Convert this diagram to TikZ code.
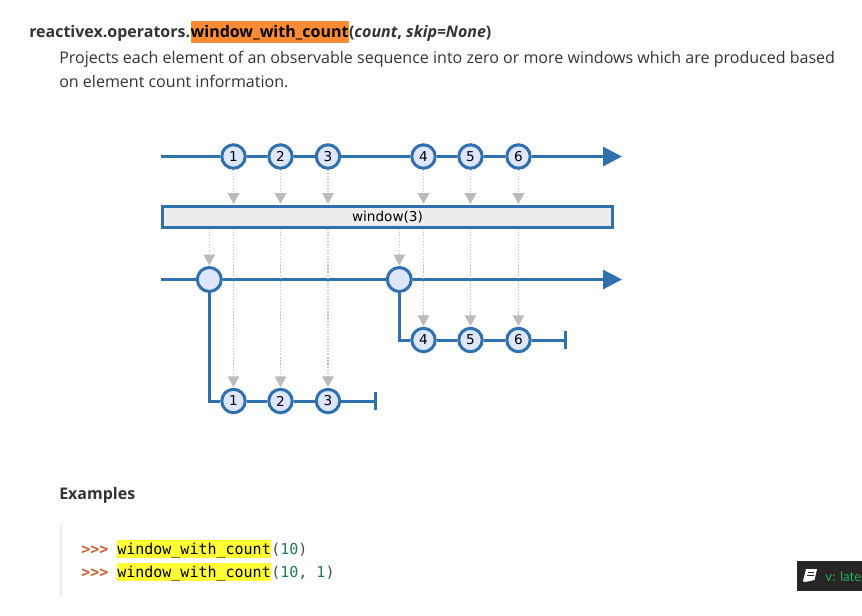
\documentclass[tikz,border=0pt]{standalone}
\usepackage{fontspec}
\setmainfont{Open Sans}
\newfontfamily\codefont{DejaVu Sans Mono}
\newfontfamily\marblefont{DejaVu Sans}
\newfontfamily\badgefont{Lato}
\usetikzlibrary{positioning,arrows.meta}
\definecolor{stream_blue}{HTML}{3071AD}
\definecolor{marble_fill}{HTML}{DDE6FB}
\definecolor{flow_grey}{HTML}{BBBBBB}
\definecolor{body_ink}{HTML}{333333}
\definecolor{num_green}{HTML}{1F7A55}
\definecolor{prompt_red}{HTML}{C65D2B}
\definecolor{mark_orange}{HTML}{FF8C35}
\definecolor{mark_yellow}{HTML}{FFFF33}
\definecolor{badge_dark}{HTML}{272525}
\definecolor{badge_green}{HTML}{27AE60}
\definecolor{bar_grey}{HTML}{EEEEEE}
\begin{document}
\begin{tikzpicture}[x=0.75pt, y=-0.75pt, node distance=0pt,
  marble/.style={circle, draw=stream_blue, line width=2.25pt, fill=marble_fill, inner sep=0pt, minimum size=17.6pt, text=black, font=\marblefont\fontsize{10.2}{12}\selectfont},
  big_marble/.style={marble, minimum size=18pt},
  window_box/.style={draw=stream_blue, line width=2.25pt, fill=black!7, inner sep=0pt, minimum width=337.5pt, minimum height=15.75pt, text height=10pt, text depth=1.8pt, text=black, font=\marblefont\fontsize{10.2}{12}\selectfont},
  stream_line/.style={draw=stream_blue, line width=2.25pt},
  stream_end/.style={stream_line, -{Triangle[length=14.25pt, width=14.25pt]}},
  stream_stop/.style={stream_line, -{Bar[width=13.5pt, line width=2.25pt]}},
  flow_line/.style={draw=flow_grey, line width=0.9pt, dash pattern=on 0.9pt off 1.4pt, -{Triangle[length=8pt, width=8.6pt, fill=flow_grey]}, shorten >=0.5pt},
  body_text/.style={inner sep=0pt, anchor=base west, text=body_ink, font=\fontsize{12.03}{14}\selectfont},
  head_text/.style={body_text, font=\bfseries\fontsize{12}{14}\selectfont},
  head_mark/.style={head_text, text=black, fill=mark_orange, text height=12pt, text depth=4.5pt},
  code_text/.style={inner sep=0pt, anchor=base west, text=black!70, font=\codefont\fontsize{11.25}{14}\selectfont},
  code_mark/.style={code_text, text=black, fill=mark_yellow, text height=10.5pt, text depth=3pt},
  prompt/.style={code_text, text=prompt_red, font=\codefont\bfseries\fontsize{11.25}{14}\selectfont}]

\useasboundingbox (0,0) rectangle (862,615);

\node[head_text] (head_a) at (29,37) {reactivex.operators.};
\node[head_mark, base right=of head_a] (head_b) {window\_with\_count};
\node[head_text, base right=of head_b] (head_c) {(\textit{count}, \textit{skip=None})};
\node[body_text] (body_a) at (59,63) {Projects each element of an observable sequence into zero or more windows which are produced based};
\node[body_text] (body_b) at (59,87) {on element count information.};

\node[marble] (n1) at (233.5,156.5) {1};
\node[marble] (n2) at (280.5,156.5) {2};
\node[marble] (n3) at (328,156.5) {3};
\node[marble] (n4) at (423.5,156.5) {4};
\node[marble] (n5) at (470.5,156.5) {5};
\node[marble] (n6) at (518.5,156.5) {6};
\node[window_box] (win) at (387.5,216.5) {window(3)};
\node[big_marble] (w1) at (209.3,279.5) {};
\node[big_marble] (w2) at (399.3,279.5) {};
\node[marble] (a4) at (423.5,340) {4};
\node[marble] (a5) at (470.5,340) {5};
\node[marble] (a6) at (518.5,340) {6};
\node[marble] (b1) at (233.5,401) {1};
\node[marble] (b2) at (280.5,401) {2};
\node[marble] (b3) at (328,401) {3};

\coordinate (top_start) at (161,156.5);
\coordinate (top_end) at (622,156.5);
\coordinate (mid_start) at (161,279.5);
\coordinate (mid_end) at (622,279.5);
\coordinate (a_stop) at (567,340);
\coordinate (b_stop) at (377,401);

\draw[stream_line] (top_start) -- (n1);
\draw[stream_line] (n1) -- (n2);
\draw[stream_line] (n2) -- (n3);
\draw[stream_line] (n3) -- (n4);
\draw[stream_line] (n4) -- (n5);
\draw[stream_line] (n5) -- (n6);
\draw[stream_end] (n6) -- (top_end);
\draw[stream_line] (mid_start) -- (w1);
\draw[stream_line] (w1) -- (w2);
\draw[stream_end] (w2) -- (mid_end);
\draw[stream_line] (w1) |- (b1);
\draw[stream_line] (b1) -- (b2);
\draw[stream_line] (b2) -- (b3);
\draw[stream_stop] (b3) -- (b_stop);
\draw[stream_line] (w2) |- (a4);
\draw[stream_line] (a4) -- (a5);
\draw[stream_line] (a5) -- (a6);
\draw[stream_stop] (a6) -- (a_stop);

\draw[flow_line] (n1) -- (n1 |- win.north);
\draw[flow_line] (n2) -- (n2 |- win.north);
\draw[flow_line] (n3) -- (n3 |- win.north);
\draw[flow_line] (n4) -- (n4 |- win.north);
\draw[flow_line] (n5) -- (n5 |- win.north);
\draw[flow_line] (n6) -- (n6 |- win.north);
\draw[flow_line] (w1 |- win.south) -- (w1);
\draw[flow_line] (w2 |- win.south) -- (w2);
\draw[flow_line] (b1 |- win.south) -- (b1);
\draw[flow_line] (b2 |- win.south) -- (b2);
\draw[flow_line] (b3 |- win.south) -- (b3);
\draw[flow_line] (a4 |- win.south) -- (a4);
\draw[flow_line] (a5 |- win.south) -- (a5);
\draw[flow_line] (a6 |- win.south) -- (a6);

\node[head_text] (examples) at (59,499) {Examples};

\fill[bar_grey, rounded corners=1pt] (59.5,524) rectangle (62,597);

\node[prompt] (p1) at (81,554) {>{}>{}>};
\node[code_mark] (c1) at (117,554) {window\_with\_count};
\node[code_text, base right=of c1] (r1) {(\textcolor{num_green}{10})};
\node[prompt] (p2) at (81,577) {>{}>{}>};
\node[code_mark] (c2) at (117,577) {window\_with\_count};
\node[code_text, base right=of c2] (r2) {(\textcolor{num_green}{10}, \textcolor{num_green}{1})};

\fill[badge_dark] (797,561) rectangle (862,591);
\fill[white] (806,569) -- (817,569) -- (814.5,580) -- (805,582) -- (803,581) -- cycle;
\draw[badge_dark, line width=0.6pt] (807.5,572) -- (814,572) (807,575) -- (813.5,575);
\node[inner sep=0pt, anchor=base west, text=badge_green, font=\badgefont\fontsize{10}{12}\selectfont] (badge) at (825,581) {v: late};

\end{tikzpicture}
\end{document}
